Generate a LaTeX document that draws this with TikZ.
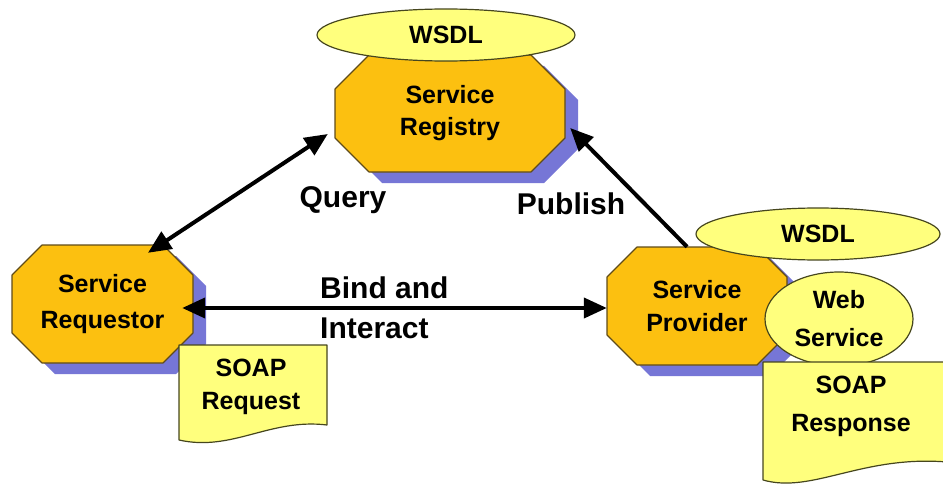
\documentclass[tikz,border=0pt]{standalone}
\usepackage{fontspec}
\setmainfont{Liberation Sans}
\usetikzlibrary{arrows.meta,calc,shapes.geometric}

\definecolor{gold}{RGB}{252,192,16}
\definecolor{edgebrown}{RGB}{95,75,25}
\definecolor{dropshade}{RGB}{118,118,214}
\definecolor{paleyellow}{RGB}{255,255,125}
\definecolor{olive}{RGB}{70,70,30}

\newcommand\nodefont{\fontsize{25}{34}\selectfont\bfseries}
\newcommand\labelfont{\fontsize{30}{40}\selectfont\bfseries}

% octagon outline: centre x, centre y, half width, half height, chamfer
\newcommand\octpath[5]{({#1-#3+#5},{#2-#4}) -- ({#1+#3-#5},{#2-#4}) -- ({#1+#3},{#2-#4+#5}) -- ({#1+#3},{#2+#4-#5}) -- ({#1+#3-#5},{#2+#4}) -- ({#1-#3+#5},{#2+#4}) -- ({#1-#3},{#2+#4-#5}) -- ({#1-#3},{#2-#4+#5}) -- cycle}

% shadowed octagon with a named node over it
\newcommand\octnode[8]{%
  \fill[fill=dropshade, shift={(13,11)}] \octpath{#2}{#3}{#4}{#5}{#6};
  \filldraw[octbody] \octpath{#2}{#3}{#4}{#5}{#6};
  \node[octlabel, minimum width={2*#4}, minimum height={2*#5}, font=\fontsize{25}{#7}\selectfont\bfseries] (#1) at (#2,#3) {#8};
}

\tikzset{
  octbody/.style={fill=gold, draw=edgebrown, line width=1.2pt, line join=round},
  octlabel/.style={inner sep=0pt, align=center, font=\nodefont},
  bubble/.style={ellipse, draw=olive, fill=paleyellow, line width=1.2pt, inner sep=0pt, align=center, font=\nodefont},
  docbody/.style={fill=paleyellow, draw=olive, line width=1.2pt, line join=round},
  tipshape/.tip={Triangle[length=23pt,width=20pt]},
  link/.style={line width=4pt, -tipshape},
  twoway/.style={line width=4pt, tipshape-tipshape},
  caption/.style={font=\labelfont, inner sep=0pt, align=left},
}

\begin{document}
\begin{tikzpicture}[x=1pt, y=-1pt]
\useasboundingbox (0,0) rectangle (943,487);

% registry with its WSDL description
\octnode{reg}{450}{113.5}{115}{58.5}{34}{32}{Service\\Registry}
\node[bubble, minimum width=258, minimum height=52] (wsdltop) at (446,35) {WSDL};

% requestor and its SOAP request
\octnode{req}{102.5}{304}{90.5}{59}{30}{36}{Service\\Requestor}
\filldraw[docbody] (179,345) -- (327,345) -- (327,425) .. controls (270,418) and (232,452) .. (179,440) -- cycle;
\node[octlabel, font=\fontsize{25}{33}\selectfont\bfseries] (soapreq) at (251,387) {SOAP\\Request};

% provider, its WSDL, web service and SOAP response
\octnode{prov}{697}{306}{90}{59}{30}{33}{Service\\Provider}
\node[bubble, minimum width=244, minimum height=52] (wsdlprov) at (818,234) {WSDL};
\node[bubble, minimum width=148, minimum height=94, font=\fontsize{25}{38}\selectfont\bfseries] (websvc) at (839,319) {Web\\Service};
\filldraw[docbody] (763,362) -- (947,362) -- (947,462) .. controls (862,455) and (812,494) .. (763,480) -- cycle;
\node[octlabel, font=\fontsize{25}{38}\selectfont\bfseries] (soapresp) at (851,406) {SOAP\\Response};

% interactions
\draw[twoway] ($(req.north)+(45.5,8)$) -- ($(reg.west)+(-7,20.5)$);
\draw[link] ($(prov.north)+(-10,0)$) -- ($(reg.east)+(5,14.5)$);
\draw[twoway] ($(req.east)+(-11,4)$) -- ($(prov.west)+(0,2)$);

\node[caption] (query) at (343,200) {Query};
\node[caption] (publish) at (571,204) {Publish};
\node[caption, anchor=west] (bind) at (320,308) {Bind and\\Interact};
\end{tikzpicture}
\end{document}
